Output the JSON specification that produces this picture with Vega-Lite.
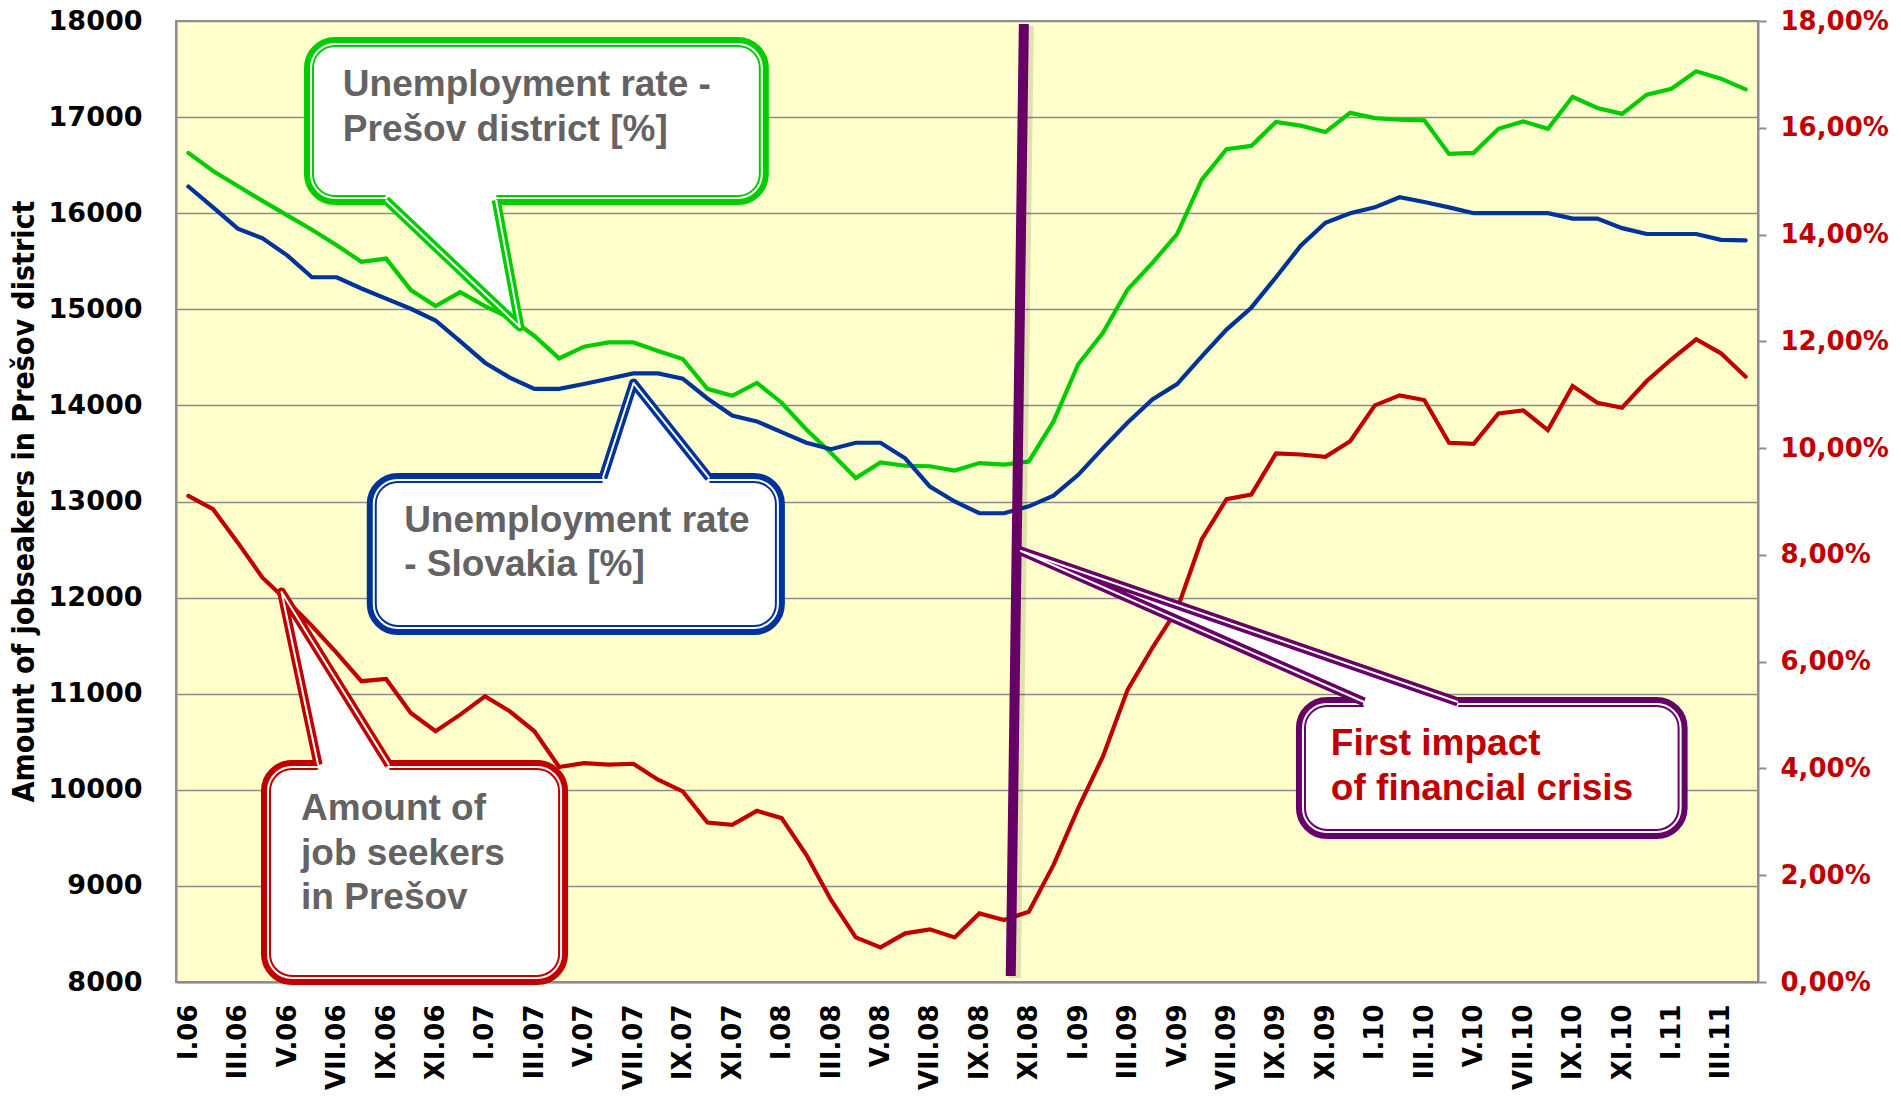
{
  "$schema": "https://vega.github.io/schema/vega-lite/v6.json",
  "width": 1582,
  "height": 961,
  "autosize": {"type": "none"},
  "padding": {"left": 176, "top": 21, "right": 143, "bottom": 120},
  "background": "white",
  "config": {
    "view": {"fill": "#FFFFCC", "stroke": "#8C8C8C", "strokeWidth": 2}
  },
  "datasets": {
    "main": [
      {"month": "I.06", "seekers": 13059, "presov": 15.53, "slovakia": 14.90},
      {"month": "II.06", "seekers": 12920, "presov": 15.19, "slovakia": 14.51},
      {"month": "III.06", "seekers": 12572, "presov": 14.91, "slovakia": 14.11},
      {"month": "IV.06", "seekers": 12207, "presov": 14.63, "slovakia": 13.93},
      {"month": "V.06", "seekers": 11964, "presov": 14.36, "slovakia": 13.61},
      {"month": "VI.06", "seekers": 11704, "presov": 14.09, "slovakia": 13.20},
      {"month": "VII.06", "seekers": 11425, "presov": 13.80, "slovakia": 13.20},
      {"month": "VIII.06", "seekers": 11130, "presov": 13.49, "slovakia": 12.99},
      {"month": "IX.06", "seekers": 11154, "presov": 13.55, "slovakia": 12.80},
      {"month": "X.06", "seekers": 10800, "presov": 12.96, "slovakia": 12.61},
      {"month": "XI.06", "seekers": 10609, "presov": 12.66, "slovakia": 12.39},
      {"month": "XII.06", "seekers": 10782, "presov": 12.92, "slovakia": 12.00},
      {"month": "I.07", "seekers": 10974, "presov": 12.66, "slovakia": 11.60},
      {"month": "II.07", "seekers": 10817, "presov": 12.44, "slovakia": 11.32},
      {"month": "III.07", "seekers": 10609, "presov": 12.10, "slovakia": 11.11},
      {"month": "IV.07", "seekers": 10237, "presov": 11.68, "slovakia": 11.11},
      {"month": "V.07", "seekers": 10278, "presov": 11.90, "slovakia": 11.20},
      {"month": "VI.07", "seekers": 10261, "presov": 11.98, "slovakia": 11.30},
      {"month": "VII.07", "seekers": 10271, "presov": 11.98, "slovakia": 11.40},
      {"month": "VIII.07", "seekers": 10105, "presov": 11.82, "slovakia": 11.40},
      {"month": "IX.07", "seekers": 9983, "presov": 11.67, "slovakia": 11.30},
      {"month": "X.07", "seekers": 9660, "presov": 11.11, "slovakia": 10.93},
      {"month": "XI.07", "seekers": 9635, "presov": 10.98, "slovakia": 10.61},
      {"month": "XII.07", "seekers": 9781, "presov": 11.22, "slovakia": 10.50},
      {"month": "I.08", "seekers": 9705, "presov": 10.85, "slovakia": 10.30},
      {"month": "II.08", "seekers": 9323, "presov": 10.35, "slovakia": 10.10},
      {"month": "III.08", "seekers": 8853, "presov": 9.91, "slovakia": 9.98},
      {"month": "IV.08", "seekers": 8464, "presov": 9.44, "slovakia": 10.10},
      {"month": "V.08", "seekers": 8360, "presov": 9.73, "slovakia": 10.10},
      {"month": "VI.08", "seekers": 8506, "presov": 9.67, "slovakia": 9.81},
      {"month": "VII.08", "seekers": 8548, "presov": 9.66, "slovakia": 9.28},
      {"month": "VIII.08", "seekers": 8464, "presov": 9.58, "slovakia": 9.00},
      {"month": "IX.08", "seekers": 8714, "presov": 9.72, "slovakia": 8.78},
      {"month": "X.08", "seekers": 8645, "presov": 9.69, "slovakia": 8.78},
      {"month": "XI.08", "seekers": 8732, "presov": 9.75, "slovakia": 8.91},
      {"month": "XII.08", "seekers": 9218, "presov": 10.50, "slovakia": 9.11},
      {"month": "I.09", "seekers": 9809, "presov": 11.57, "slovakia": 9.50},
      {"month": "II.09", "seekers": 10348, "presov": 12.16, "slovakia": 10.00},
      {"month": "III.09", "seekers": 11043, "presov": 12.97, "slovakia": 10.48},
      {"month": "IV.09", "seekers": 11478, "presov": 13.47, "slovakia": 10.91},
      {"month": "V.09", "seekers": 11877, "presov": 14.01, "slovakia": 11.20},
      {"month": "VI.09", "seekers": 12607, "presov": 15.03, "slovakia": 11.72},
      {"month": "VII.09", "seekers": 13024, "presov": 15.60, "slovakia": 12.22},
      {"month": "VIII.09", "seekers": 13072, "presov": 15.66, "slovakia": 12.63},
      {"month": "IX.09", "seekers": 13500, "presov": 16.11, "slovakia": 13.20},
      {"month": "X.09", "seekers": 13489, "presov": 16.04, "slovakia": 13.79},
      {"month": "XI.09", "seekers": 13465, "presov": 15.92, "slovakia": 14.22},
      {"month": "XII.09", "seekers": 13628, "presov": 16.28, "slovakia": 14.40},
      {"month": "I.10", "seekers": 14000, "presov": 16.18, "slovakia": 14.51},
      {"month": "II.10", "seekers": 14104, "presov": 16.15, "slovakia": 14.70},
      {"month": "III.10", "seekers": 14056, "presov": 16.14, "slovakia": 14.61},
      {"month": "IV.10", "seekers": 13611, "presov": 15.51, "slovakia": 14.51},
      {"month": "V.10", "seekers": 13600, "presov": 15.53, "slovakia": 14.40},
      {"month": "VI.10", "seekers": 13917, "presov": 15.98, "slovakia": 14.40},
      {"month": "VII.10", "seekers": 13948, "presov": 16.12, "slovakia": 14.40},
      {"month": "VIII.10", "seekers": 13743, "presov": 15.98, "slovakia": 14.40},
      {"month": "IX.10", "seekers": 14202, "presov": 16.58, "slovakia": 14.30},
      {"month": "X.10", "seekers": 14028, "presov": 16.37, "slovakia": 14.30},
      {"month": "XI.10", "seekers": 13976, "presov": 16.26, "slovakia": 14.12},
      {"month": "XII.10", "seekers": 14254, "presov": 16.62, "slovakia": 14.01},
      {"month": "I.11", "seekers": 14480, "presov": 16.73, "slovakia": 14.01},
      {"month": "II.11", "seekers": 14688, "presov": 17.06, "slovakia": 14.01},
      {"month": "III.11", "seekers": 14542, "presov": 16.92, "slovakia": 13.90},
      {"month": "IV.11", "seekers": 14299, "presov": 16.72, "slovakia": 13.89}
    ],
    "crisis": [
      {"ax": 33.80, "ay": 17969, "ax2": 33.27, "ay2": 8062}
    ],
    "boxes": [
      {"g": "green", "ax": 4.88, "ax2": 23.28, "ay": 17782, "ay2": 16137},
      {"g": "blue", "ax": 7.42, "ax2": 23.93, "ay": 13245, "ay2": 11663},
      {"g": "red", "ax": 3.14, "ax2": 15.16, "ay": 10258, "ay2": 8021},
      {"g": "purple", "ax": 45.01, "ax2": 60.45, "ay": 10914, "ay2": 9540}
    ],
    "fills": [
      {"g": "green", "k": 0, "ax": 7.99, "ay": 16240},
      {"g": "green", "k": 1, "ax": 7.99, "ay": 16137},
      {"g": "green", "k": 2, "ax": 13.41, "ay": 14816},
      {"g": "green", "k": 3, "ax": 12.45, "ay": 16137},
      {"g": "green", "k": 4, "ax": 12.45, "ay": 16240},
      {"g": "blue", "k": 0, "ax": 16.77, "ay": 13145},
      {"g": "blue", "k": 1, "ax": 16.77, "ay": 13245},
      {"g": "blue", "k": 2, "ax": 18.01, "ay": 14233},
      {"g": "blue", "k": 3, "ax": 21.07, "ay": 13245},
      {"g": "blue", "k": 4, "ax": 21.07, "ay": 13145},
      {"g": "red", "k": 0, "ax": 5.25, "ay": 10158},
      {"g": "red", "k": 1, "ax": 5.25, "ay": 10258},
      {"g": "red", "k": 2, "ax": 3.77, "ay": 12058},
      {"g": "red", "k": 3, "ax": 8.12, "ay": 10258},
      {"g": "red", "k": 4, "ax": 8.12, "ay": 10158},
      {"g": "purple", "k": 0, "ax": 47.56, "ay": 10814},
      {"g": "purple", "k": 1, "ax": 47.56, "ay": 10914},
      {"g": "purple", "k": 2, "ax": 33.68, "ay": 12485},
      {"g": "purple", "k": 3, "ax": 51.36, "ay": 10914},
      {"g": "purple", "k": 4, "ax": 51.36, "ay": 10814}
    ],
    "sides": [
      {"g": "green", "k": 0, "ax": 7.99, "ay": 16137},
      {"g": "green", "k": 1, "ax": 13.41, "ay": 14816},
      {"g": "green", "k": 2, "ax": 12.45, "ay": 16137},
      {"g": "blue", "k": 0, "ax": 16.77, "ay": 13245},
      {"g": "blue", "k": 1, "ax": 18.01, "ay": 14233},
      {"g": "blue", "k": 2, "ax": 21.07, "ay": 13245},
      {"g": "red", "k": 0, "ax": 5.25, "ay": 10258},
      {"g": "red", "k": 1, "ax": 3.77, "ay": 12058},
      {"g": "red", "k": 2, "ax": 8.12, "ay": 10258},
      {"g": "purple", "k": 0, "ax": 47.56, "ay": 10914},
      {"g": "purple", "k": 1, "ax": 33.68, "ay": 12485},
      {"g": "purple", "k": 2, "ax": 51.36, "ay": 10914}
    ],
    "texts": [
      {"g": "green", "ax": 6.25, "ay": 17334, "text": "Unemployment rate -"},
      {"g": "green", "ax": 6.25, "ay": 16866, "text": "Prešov district [%]"},
      {"g": "blue", "ax": 8.73, "ay": 12797, "text": "Unemployment rate"},
      {"g": "blue", "ax": 8.73, "ay": 12339, "text": "- Slovakia [%]"},
      {"g": "red", "ax": 4.56, "ay": 9800, "text": "Amount of"},
      {"g": "red", "ax": 4.56, "ay": 9337, "text": "job seekers"},
      {"g": "red", "ax": 4.56, "ay": 8874, "text": "in Prešov"},
      {"g": "purple", "ax": 46.22, "ay": 10477, "text": "First impact"},
      {"g": "purple", "ax": 46.22, "ay": 10008, "text": "of financial crisis"}
    ]
  },
  "data": {"name": "main"},
  "layer": [
    {
      "mark": {"type": "line", "color": "#C00000", "strokeWidth": 4.2, "strokeCap": "round"},
      "encoding": {
        "x": {
          "field": "month", "type": "ordinal", "sort": null,
          "scale": {"type": "point", "padding": 0.5},
          "axis": {
            "values": ["I.06","III.06","V.06","VII.06","IX.06","XI.06","I.07","III.07","V.07","VII.07","IX.07","XI.07","I.08","III.08","V.08","VII.08","IX.08","XI.08","I.09","III.09","V.09","VII.09","IX.09","XI.09","I.10","III.10","V.10","VII.10","IX.10","XI.10","I.11","III.11"],
            "labelAngle": -90, "labelAlign": "right", "labelBaseline": "middle",
            "labelFont": "DejaVu Sans", "labelFontWeight": "bold", "labelFontSize": 26, "labelColor": "black",
            "labelPadding": 22, "ticks": false, "tickSize": 0, "labelOverlap": false,
            "domain": true, "domainColor": "#8C8C8C", "domainWidth": 2, "grid": false, "title": null
          }
        },
        "y": {
          "field": "seekers", "type": "quantitative",
          "scale": {"domain": [8000, 18000], "nice": false, "zero": false},
          "axis": {
            "orient": "left",
            "values": [8000, 9000, 10000, 11000, 12000, 13000, 14000, 15000, 16000, 17000, 18000],
            "format": "d",
            "labelFont": "DejaVu Sans", "labelFontWeight": "bold", "labelFontSize": 27, "labelColor": "black",
            "labelPadding": 34, "ticks": false, "tickSize": 0,
            "domain": true, "domainColor": "#8C8C8C", "domainWidth": 2,
            "grid": true, "gridColor": "#8C8C8C", "gridWidth": 1.5,
            "title": "Amount of jobseakers in Prešov district",
            "titleFont": "DejaVu Sans Condensed", "titleFontWeight": "bold", "titleFontSize": 30, "titleColor": "black",
            "titleX": -152, "titleY": 480, "titleAngle": -90, "titleAlign": "center", "titleBaseline": "middle"
          }
        }
      }
    },
    {
      "encoding": {
        "x": {"field": "month", "type": "ordinal", "sort": null, "scale": {"type": "point", "padding": 0.5}, "axis": null}
      },
      "layer": [
        {
          "mark": {"type": "line", "color": "#00CC00", "strokeWidth": 4.2, "strokeCap": "round"},
          "encoding": {
            "y": {
              "field": "presov", "type": "quantitative",
              "scale": {"domain": [0, 18], "nice": false, "zero": true},
              "axis": {
                "orient": "right", "values": [0, 2, 4, 6, 8, 10, 12, 14, 16, 18],
                "labelExpr": "replace(format(datum.value, '.2f'), '.', ',') + '%'",
                "labelFont": "DejaVu Sans", "labelFontWeight": "bold", "labelFontSize": 26, "labelColor": "#C00000",
                "labelPadding": 14, "ticks": true, "tickSize": 8, "tickColor": "#8C8C8C", "tickWidth": 2,
                "domain": true, "domainColor": "#8C8C8C", "domainWidth": 2, "grid": false, "title": null
              }
            }
          }
        },
        {
          "mark": {"type": "line", "color": "#003399", "strokeWidth": 4.2, "strokeCap": "round"},
          "encoding": {
            "y": {
              "field": "slovakia", "type": "quantitative",
              "scale": {"domain": [0, 18], "nice": false, "zero": true},
              "axis": {
                "orient": "right", "values": [0, 2, 4, 6, 8, 10, 12, 14, 16, 18],
                "labelExpr": "replace(format(datum.value, '.2f'), '.', ',') + '%'",
                "labelFont": "DejaVu Sans", "labelFontWeight": "bold", "labelFontSize": 26, "labelColor": "#C00000",
                "labelPadding": 14, "ticks": true, "tickSize": 8, "tickColor": "#8C8C8C", "tickWidth": 2,
                "domain": true, "domainColor": "#8C8C8C", "domainWidth": 2, "grid": false, "title": null
              }
            }
          }
        }
      ]
    },
    {
      "layer": [
        {
          "data": {"name": "crisis"},
          "mark": {"type": "rule", "color": "#000000", "opacity": 0.12, "strokeWidth": 12, "xOffset": 4, "x2Offset": 4, "yOffset": 2, "y2Offset": 2},
          "encoding": {
            "x": {"field": "ax", "type": "quantitative", "scale": {"domain": [-0.5, 63.5], "nice": false, "zero": false}, "axis": null},
            "x2": {"field": "ax2"},
            "y": {"field": "ay", "type": "quantitative", "scale": {"domain": [8000, 18000], "nice": false, "zero": false}, "axis": null},
            "y2": {"field": "ay2"}
          }
        },
        {
          "data": {"name": "crisis"},
          "mark": {"type": "rule", "color": "#660066", "strokeWidth": 10},
          "encoding": {
            "x": {"field": "ax", "type": "quantitative", "axis": null},
            "x2": {"field": "ax2"},
            "y": {"field": "ay", "type": "quantitative", "axis": null},
            "y2": {"field": "ay2"}
          }
        },
        {
          "data": {"name": "boxes"},
          "mark": {"type": "rect", "fill": "white", "strokeWidth": 10, "cornerRadius": 26},
          "encoding": {
            "x": {"field": "ax", "type": "quantitative", "axis": null},
            "x2": {"field": "ax2"},
            "y": {"field": "ay", "type": "quantitative", "axis": null},
            "y2": {"field": "ay2"},
            "stroke": {"field": "g", "type": "nominal", "scale": {"domain": ["green", "blue", "red", "purple"], "range": ["#00CC00", "#003399", "#C00000", "#660066"]}, "legend": null}
          }
        },
        {
          "data": {"name": "boxes"},
          "mark": {"type": "rect", "fill": "transparent", "stroke": "white", "strokeWidth": 2, "cornerRadius": 24, "xOffset": 2, "x2Offset": -2, "yOffset": 2, "y2Offset": -2},
          "encoding": {
            "x": {"field": "ax", "type": "quantitative", "axis": null},
            "x2": {"field": "ax2"},
            "y": {"field": "ay", "type": "quantitative", "axis": null},
            "y2": {"field": "ay2"}
          }
        },
        {
          "data": {"name": "fills"},
          "mark": {"type": "line", "interpolate": "linear-closed", "fill": "white", "stroke": "white", "strokeWidth": 0.5},
          "encoding": {
            "x": {"field": "ax", "type": "quantitative", "axis": null},
            "y": {"field": "ay", "type": "quantitative", "axis": null},
            "order": {"field": "k", "type": "quantitative"},
            "detail": {"field": "g", "type": "nominal"}
          }
        },
        {
          "data": {"name": "sides"},
          "mark": {"type": "line", "strokeWidth": 9, "strokeJoin": "round"},
          "encoding": {
            "x": {"field": "ax", "type": "quantitative", "axis": null},
            "y": {"field": "ay", "type": "quantitative", "axis": null},
            "order": {"field": "k", "type": "quantitative"},
            "stroke": {"field": "g", "type": "nominal", "scale": {"domain": ["green", "blue", "red", "purple"], "range": ["#00CC00", "#003399", "#C00000", "#660066"]}, "legend": null}
          }
        },
        {
          "data": {"name": "sides"},
          "mark": {"type": "line", "color": "white", "strokeWidth": 2, "strokeJoin": "round"},
          "encoding": {
            "x": {"field": "ax", "type": "quantitative", "axis": null},
            "y": {"field": "ay", "type": "quantitative", "axis": null},
            "order": {"field": "k", "type": "quantitative"},
            "detail": {"field": "g", "type": "nominal"}
          }
        },
        {
          "data": {"name": "texts"},
          "mark": {"type": "text", "align": "left", "baseline": "middle", "font": "Liberation Sans", "fontWeight": "bold", "fontSize": 37},
          "encoding": {
            "x": {"field": "ax", "type": "quantitative", "axis": null},
            "y": {"field": "ay", "type": "quantitative", "axis": null},
            "text": {"field": "text", "type": "nominal"},
            "color": {"condition": {"test": "datum.g === 'purple'", "value": "#C00000"}, "value": "#646262"}
          }
        }
      ]
    }
  ],
  "resolve": {"scale": {"x": "independent", "y": "independent"}}
}
